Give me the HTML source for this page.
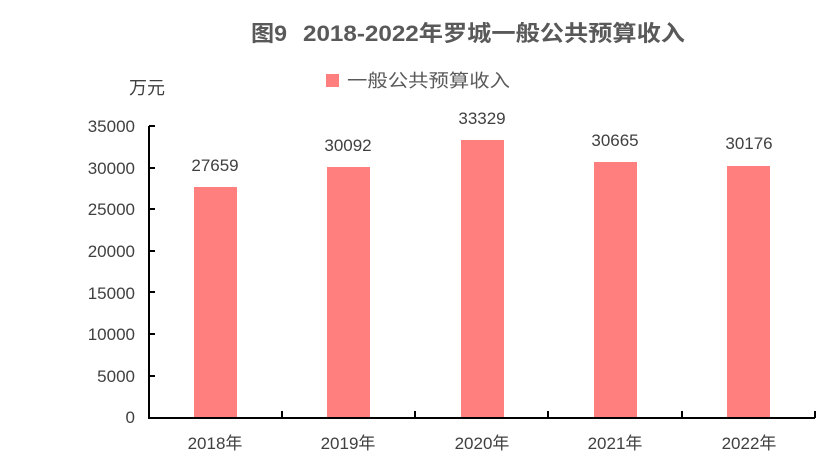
<!DOCTYPE html>
<html><head><meta charset="utf-8"><style>
html,body{margin:0;padding:0;background:#fff;}
svg{display:block;font-family:"Liberation Sans","Noto Sans CJK SC",sans-serif;}
</style></head><body>
<svg width="840" height="473" viewBox="0 0 840 473" xmlns="http://www.w3.org/2000/svg">
<text x="251" y="41" font-size="22" font-weight="bold" fill="#595959" textLength="36" lengthAdjust="spacingAndGlyphs">图9</text>
<text x="303" y="41" font-size="22" font-weight="bold" fill="#595959" textLength="382" lengthAdjust="spacingAndGlyphs">2018-2022年罗城一般公共预算收入</text>
<rect x="326" y="74" width="13" height="13" fill="#FF7F7F"/>
<text x="347" y="87" font-size="18" fill="#595959" textLength="163" lengthAdjust="spacingAndGlyphs">一般公共预算收入</text>
<text x="129" y="94" font-size="18" fill="#404040">万元</text>
<g font-size="17" fill="#404040" text-anchor="end">
<text x="135" y="423">0</text>
<text x="135" y="382">5000</text>
<text x="135" y="340">10000</text>
<text x="135" y="299">15000</text>
<text x="135" y="257">20000</text>
<text x="135" y="215">25000</text>
<text x="135" y="174">30000</text>
<text x="135" y="132">35000</text>
</g>
<g fill="#FF7F7F">
<rect x="194" y="187" width="43" height="230"/>
<rect x="327" y="167" width="43" height="250"/>
<rect x="461" y="140" width="43" height="277"/>
<rect x="594" y="162" width="43" height="255"/>
<rect x="727" y="166" width="43" height="251"/>
</g>
<g font-size="17" fill="#404040" text-anchor="middle">
<text x="215" y="171">27659</text>
<text x="348" y="151">30092</text>
<text x="482" y="124">33329</text>
<text x="615" y="146">30665</text>
<text x="749" y="149">30176</text>
</g>
<g stroke="#000" stroke-width="2" fill="none">
<path d="M149 126V418H815"/>
<path d="M149 126h6M149 168h6M149 209h6M149 251h6M149 292h6M149 334h6M149 376h6"/>
<path d="M282 418v-7M415 418v-7M548 418v-7M682 418v-7M815 418v-7"/>
</g>
<g font-size="17" fill="#404040" text-anchor="middle">
<text x="215" y="449">2018年</text>
<text x="348" y="449">2019年</text>
<text x="482" y="449">2020年</text>
<text x="615" y="449">2021年</text>
<text x="749" y="449">2022年</text>
</g>
</svg>
</body></html>
